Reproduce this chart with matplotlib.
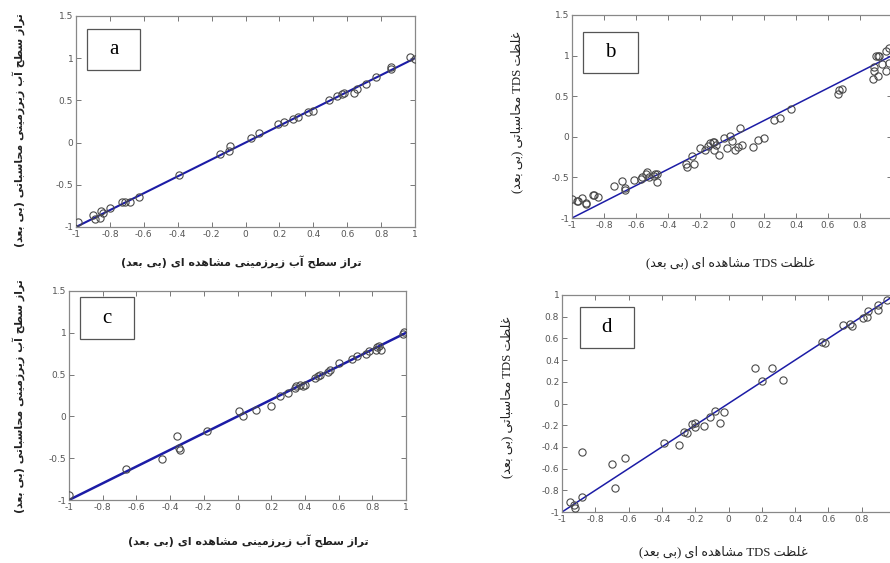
import re
import matplotlib
matplotlib.use('Agg')
import matplotlib.pyplot as plt
from matplotlib.patches import Rectangle

# panel a: groundwater level, training
a_obs = [-0.99, -0.90, -0.89, -0.86, -0.85, -0.84, -0.80, -0.73, -0.71, -0.68, -0.63, -0.39,
         -0.15, -0.10, -0.09, 0.03, 0.08, 0.19, 0.23, 0.28, 0.31, 0.37, 0.40, 0.49, 0.54,
         0.57, 0.58, 0.64, 0.66, 0.71, 0.77, 0.86, 0.86, 0.97, 1.00]
a_calc = [-0.94, -0.86, -0.90, -0.89, -0.81, -0.84, -0.77, -0.70, -0.70, -0.70, -0.64, -0.38,
          -0.14, -0.10, -0.04, 0.06, 0.11, 0.22, 0.24, 0.28, 0.30, 0.36, 0.38, 0.51, 0.55,
          0.57, 0.59, 0.59, 0.63, 0.70, 0.78, 0.90, 0.87, 1.01, 0.99]

# panel b: TDS, training
b_obs = [-1.00, -0.97, -0.96, -0.94, -0.91, -0.91, -0.87, -0.86, -0.84, -0.74, -0.69, -0.67,
         -0.67, -0.61, -0.57, -0.56, -0.54, -0.53, -0.52, -0.49, -0.48, -0.47, -0.47, -0.29,
         -0.28, -0.25, -0.24, -0.20, -0.17, -0.15, -0.14, -0.12, -0.11, -0.11, -0.10, -0.08,
         -0.05, -0.03, -0.01, 0.00, 0.02, 0.04, 0.05, 0.06, 0.13, 0.16, 0.20, 0.26, 0.30,
         0.37, 0.66, 0.67, 0.69, 0.88, 0.89, 0.89, 0.90, 0.91, 0.91, 0.92, 0.94, 0.96, 0.96,
         0.98, 0.98]
b_calc = [-0.76, -0.79, -0.79, -0.75, -0.83, -0.82, -0.72, -0.72, -0.74, -0.60, -0.54, -0.63,
          -0.66, -0.53, -0.52, -0.50, -0.46, -0.43, -0.49, -0.48, -0.46, -0.56, -0.46, -0.33,
          -0.37, -0.24, -0.33, -0.14, -0.16, -0.11, -0.08, -0.07, -0.06, -0.16, -0.10, -0.23,
          -0.02, -0.14, 0.01, -0.05, -0.16, -0.13, 0.11, -0.10, -0.12, -0.04, -0.02, 0.21, 0.23,
          0.34, 0.53, 0.58, 0.59, 0.71, 0.86, 0.81, 0.99, 0.99, 0.75, 0.99, 0.90, 0.81, 1.06,
          1.09, 0.91]

# panel c: groundwater level, test
c_obs = [-1.00, -0.66, -0.45, -0.36, -0.35, -0.34, -0.18, 0.01, 0.03, 0.11, 0.20, 0.25, 0.30,
         0.34, 0.35, 0.37, 0.39, 0.40, 0.46, 0.48, 0.49, 0.54, 0.55, 0.60, 0.68, 0.71, 0.76,
         0.78, 0.82, 0.83, 0.84, 0.85, 0.98, 0.99]
c_calc = [-0.94, -0.63, -0.51, -0.24, -0.38, -0.40, -0.18, 0.07, 0.01, 0.08, 0.13, 0.25, 0.28,
          0.34, 0.36, 0.38, 0.36, 0.37, 0.46, 0.48, 0.50, 0.53, 0.56, 0.64, 0.69, 0.72, 0.75,
          0.78, 0.79, 0.83, 0.84, 0.80, 0.99, 1.01]

# panel d: TDS, test
d_obs = [-0.95, -0.93, -0.92, -0.88, -0.88, -0.70, -0.68, -0.62, -0.39, -0.30, -0.27, -0.25,
         -0.22, -0.20, -0.20, -0.15, -0.11, -0.08, -0.05, -0.03, 0.16, 0.20, 0.26, 0.33, 0.56,
         0.58, 0.69, 0.73, 0.74, 0.81, 0.83, 0.84, 0.90, 0.90, 0.95]
d_calc = [-0.91, -0.94, -0.96, -0.45, -0.86, -0.56, -0.78, -0.50, -0.36, -0.38, -0.26, -0.27,
          -0.19, -0.18, -0.22, -0.21, -0.12, -0.07, -0.18, -0.08, 0.33, 0.21, 0.33, 0.22, 0.57,
          0.56, 0.72, 0.73, 0.71, 0.79, 0.80, 0.85, 0.91, 0.86, 0.95]

gw_ylabel = 'تراز سطح آب زیرزمینی محاسباتی (بی بعد)'
gw_xlabel = 'تراز سطح آب زیرزمینی مشاهده ای (بی بعد)'
tds_ylabel = 'غلظت TDS محاسباتی (بی بعد)'
tds_xlabel = 'غلظت TDS مشاهده ای (بی بعد)'

# isolated, final, initial, medial
FORMS = {
    'ا': ('\uFE8D', '\uFE8E', None, None),
    'آ': ('\uFE81', '\uFE82', None, None),
    'د': ('\uFEA9', '\uFEAA', None, None),
    'ر': ('\uFEAD', '\uFEAE', None, None),
    'ز': ('\uFEAF', '\uFEB0', None, None),
    'ب': ('\uFE8F', '\uFE90', '\uFE91', '\uFE92'),
    'ت': ('\uFE95', '\uFE96', '\uFE97', '\uFE98'),
    'ح': ('\uFEA1', '\uFEA2', '\uFEA3', '\uFEA4'),
    'س': ('\uFEB1', '\uFEB2', '\uFEB3', '\uFEB4'),
    'ش': ('\uFEB5', '\uFEB6', '\uFEB7', '\uFEB8'),
    'ط': ('\uFEC1', '\uFEC2', '\uFEC3', '\uFEC4'),
    'ظ': ('\uFEC5', '\uFEC6', '\uFEC7', '\uFEC8'),
    'ع': ('\uFEC9', '\uFECA', '\uFECB', '\uFECC'),
    'غ': ('\uFECD', '\uFECE', '\uFECF', '\uFED0'),
    'ل': ('\uFEDD', '\uFEDE', '\uFEDF', '\uFEE0'),
    'م': ('\uFEE1', '\uFEE2', '\uFEE3', '\uFEE4'),
    'ن': ('\uFEE5', '\uFEE6', '\uFEE7', '\uFEE8'),
    'ه': ('\uFEE9', '\uFEEA', '\uFEEB', '\uFEEC'),
    'ی': ('\uFBFC', '\uFBFD', '\uFBFE', '\uFBFF'),
}


def fa(text):
    # join letters, then lay out right-to-left
    out = []
    for i, ch in enumerate(text):
        if ch not in FORMS:
            out.append(ch)
            continue
        f = FORMS[ch]
        prev = text[i - 1] if i > 0 else ''
        nxt = text[i + 1] if i < len(text) - 1 else ''
        jp = prev in FORMS and FORMS[prev][2] is not None
        jn = f[2] is not None and nxt in FORMS
        if jp and jn:
            out.append(f[3])
        elif jp:
            out.append(f[1])
        elif jn:
            out.append(f[2])
        else:
            out.append(f[0])
    s = ''.join(out)[::-1].translate(str.maketrans('()', ')('))
    return re.sub(r'[A-Za-z0-9]+', lambda m: m.group(0)[::-1], s)


W, H = 890, 563
fig = plt.figure(figsize=(W / 100, H / 100), dpi=100)
fig.patch.set_facecolor('white')


def px_axes(l, t, r, b):
    return fig.add_axes([l / W, 1 - b / H, (r - l) / W, (b - t) / H])


XT = [-1, -0.8, -0.6, -0.4, -0.2, 0, 0.2, 0.4, 0.6, 0.8, 1]


def style(ax, yticks, ylim, last_x=True):
    ax.set_xlim(-1, 1)
    ax.set_ylim(*ylim)
    ax.set_xticks(XT)
    labels = ['%g' % v for v in XT]
    if not last_x:
        labels[-1] = ''  # falls outside the cropped picture
    ax.set_xticklabels(labels)
    ax.set_yticks(yticks)
    ax.set_yticklabels(['%g' % v for v in yticks])
    ax.tick_params(direction='in', top=True, right=True, length=3.5, width=0.7,
                   color='#777777', labelsize=6.5, labelcolor='#555555', pad=2)
    for sp in ax.spines.values():
        sp.set_color('#888888')
        sp.set_linewidth(0.9)


def panel(ax, obs, calc, letter, box, lw):
    ax.plot([-1, 1], [-1, 1], color='#1c1ca6', lw=lw, zorder=2)
    ax.plot(obs, calc, 'o', ms=5.2, mfc='none', mec='#4a4a4a', mew=0.8, zorder=3)
    x0, y0, x1, y1 = box
    ax.add_patch(Rectangle((x0, y0), x1 - x0, y1 - y0, transform=ax.transAxes,
                           fill=False, ec='#555555', lw=0.9))
    ax.text((x0 + x1) / 2, (y0 + y1) / 2, letter, transform=ax.transAxes,
            ha='center', va='center', fontsize=15, family='Liberation Serif')


ax_a = px_axes(76, 16, 415, 227)
style(ax_a, [-1, -0.5, 0, 0.5, 1, 1.5], (-1, 1.5))
panel(ax_a, a_obs, a_calc, 'a', (0.032, 0.744, 0.19, 0.938), 1.5)

ax_b = px_axes(572, 15, 892, 218)
style(ax_b, [-1, -0.5, 0, 0.5, 1, 1.5], (-1, 1.5), last_x=False)
panel(ax_b, b_obs, b_calc, 'b', (0.034, 0.714, 0.206, 0.916), 1.1)

ax_c = px_axes(69, 291, 406, 500)
style(ax_c, [-1, -0.5, 0, 0.5, 1, 1.5], (-1, 1.5))
panel(ax_c, c_obs, c_calc, 'c', (0.033, 0.77, 0.194, 0.971), 1.8)

ax_d = px_axes(562, 295, 895, 512)
style(ax_d, [-1, -0.8, -0.6, -0.4, -0.2, 0, 0.2, 0.4, 0.6, 0.8, 1], (-1, 1), last_x=False)
panel(ax_d, d_obs, d_calc, 'd', (0.054, 0.756, 0.216, 0.945), 1.1)

sans_bold = dict(family='DejaVu Sans', fontweight='bold', fontsize=7.9, color='#222222')
serif = dict(family=['Liberation Serif', 'DejaVu Sans'], fontsize=9.2, color='#222222')


def ftext(x, y, s, rot=0, **kw):
    fig.text(x / W, 1 - y / H, fa(s), rotation=rot, ha='center', va='center', **kw)


ftext(241, 262, gw_xlabel, **sans_bold)
ftext(19, 130, gw_ylabel, rot=90, **sans_bold)
ftext(248, 541, gw_xlabel, **sans_bold)
ftext(19, 396, gw_ylabel, rot=90, **sans_bold)

ftext(730, 263, tds_xlabel, **serif)
ftext(517, 112, tds_ylabel, rot=90, **serif)
ftext(723, 552, tds_xlabel, **serif)
ftext(507, 397, tds_ylabel, rot=90, **serif)

fig.savefig('out.png', dpi=100)
